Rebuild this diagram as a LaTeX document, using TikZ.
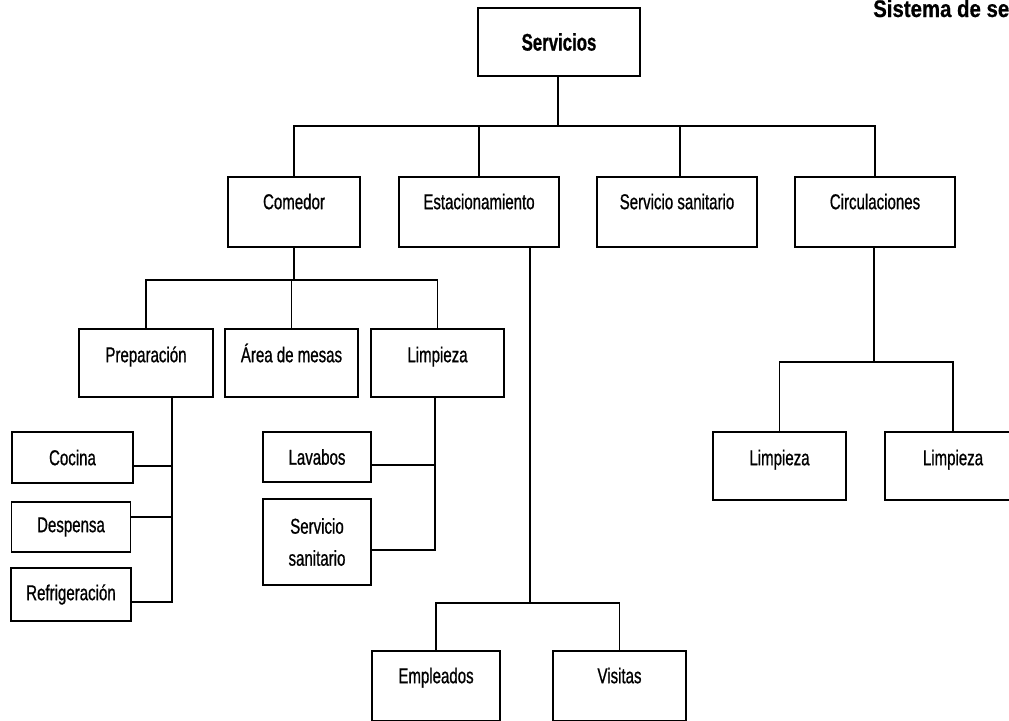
\documentclass[tikz,border=0pt]{standalone}
\usepackage{fontspec}
\setmainfont{Liberation Sans}[FakeStretch=0.7, FakeBold=0.8]
\newfontfamily\titlefont{Liberation Sans}[FakeStretch=0.85, FakeBold=0.6]
\begin{document}
\begin{tikzpicture}[x=1pt,y=-1pt,
  box/.style={draw, line width=1.8pt, inner sep=0pt, align=center,
    font=\fontsize{21.5}{32}\selectfont},
  lvA/.style={box, minimum width=#1, minimum height=70pt, text height=15.4pt, text depth=21pt},
  lvB/.style={box, minimum width=#1, minimum height=68pt, text height=15.4pt, text depth=17pt},
  leaf/.style={box, minimum width=#1, minimum height=51pt},
  wire/.style={line width=1.8pt},
]
\useasboundingbox (0,0) rectangle (1009,720);
\clip (0,0) rectangle (1009,720);
\fill[white] (0,0) rectangle (1009,720);

% title
\node[anchor=base west, inner sep=0pt, font=\titlefont\bfseries\fontsize{24}{26}\selectfont] (title) at (873,17) {Sistema de se};

% root
\node[box, minimum width=162pt, minimum height=68pt, font=\bfseries\fontsize{24}{26}\selectfont] (serv) at (559,42) {Servicios};

% first level
\node[lvA=132pt] (com)  at (294,212) {Comedor};
\node[lvA=160pt] (est)  at (479,212) {Estacionamiento};
\node[lvA=160pt] (ssan) at (677,212) {Servicio sanitario};
\node[lvA=160pt] (circ) at (875,212) {Circulaciones};

% dining room
\node[lvB=134pt] (prep) at (146,363)   {Preparación};
\node[lvB=133pt] (area) at (291.5,363) {Área de mesas};
\node[lvB=133pt] (limp) at (437.5,363) {Limpieza};

\node[leaf=121pt] (coc)  at (72.5,457.5) {Cocina};
\node[leaf=119pt, minimum height=50pt] (desp) at (71,527) {Despensa};
\node[leaf=120pt, minimum height=53pt] (refr) at (71,594.5) {Refrigeración};

\node[leaf=108pt, minimum height=50pt] (lav)  at (317,457) {Lavabos};
\node[leaf=108pt, minimum height=86pt] (ssb)  at (317,542) {Servicio\\sanitario};

% parking
\node[lvA=128pt] (emp) at (436,686)   {Empleados};
\node[lvA=133pt] (vis) at (619.5,686) {Visitas};

% circulation
\node[lvB=133pt] (limA) at (779.5,466) {Limpieza};
\node[lvB=136pt] (limB) at (953,466)   {Limpieza};

% root connectors
\coordinate (bus1) at (558,126);
\draw[wire] (serv.south -| bus1) -- (bus1);
\draw[wire] (com.north) |- (bus1) -| (circ.north);
\draw[wire] (est.north) -- (est.north |- bus1);
\draw[wire] ([xshift=3pt]ssan.north) -- ([xshift=3pt]ssan.north |- bus1);

% dining room connectors
\coordinate (bus2) at (294,280);
\draw[wire] (com.south) -- (bus2);
\draw[wire] (prep.north) |- (bus2) -| (limp.north);
\draw[wire] (area.north) -- (area.north |- bus2);

\coordinate (pv) at ([xshift=26pt]prep.south);
\coordinate (cocS) at ([yshift=-8.5pt]coc.east);
\coordinate (despS) at ([yshift=10pt]desp.east);
\coordinate (refrS) at ([yshift=-7.5pt]refr.east);
\draw[wire] (pv) |- (refrS);
\draw[wire] (cocS) -- (cocS -| pv);
\draw[wire] (despS) -- (despS -| pv);

\coordinate (lv) at ([xshift=-2.5pt]limp.south);
\coordinate (lavS) at ([yshift=-8pt]lav.east);
\coordinate (ssbS) at ([yshift=-8pt]ssb.east);
\draw[wire] (lv) |- (ssbS);
\draw[wire] (lavS) -- (lavS -| lv);

% parking connectors
\coordinate (ev) at ([xshift=51pt]est.south);
\coordinate (bus3) at (530,603);
\draw[wire] (ev) -- (ev |- bus3);
\draw[wire] (emp.north) |- (bus3) -| (vis.north);

% circulation connectors
\coordinate (bus4) at (874,362);
\draw[wire] (circ.south -| bus4) -- (bus4);
\draw[wire] (limA.north) |- (bus4) -| (limB.north);
\end{tikzpicture}
\end{document}
